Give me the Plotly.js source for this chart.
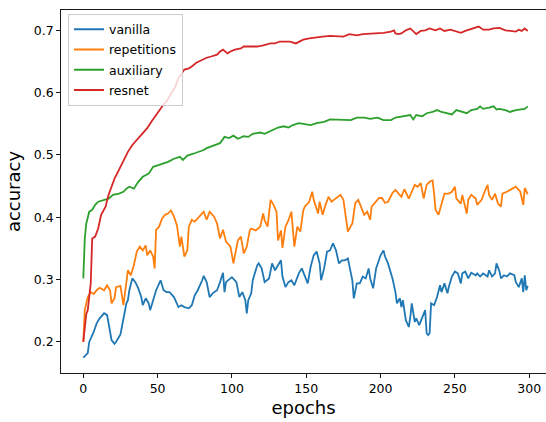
<!DOCTYPE html>
<html>
<head>
<meta charset="utf-8">
<script src="https://cdn.plot.ly/plotly-3.0.1.min.js"></script>
<style>html,body{margin:0;padding:0;background:#fff;}#chart{width:546px;height:422px;}</style>
</head>
<body>
<div id="chart"></div>
<script>
// ---- data ----
const seriesNames = ["vanilla", "repetitions", "auxiliary", "resnet"];
const seriesColors = ["#1f77b4", "#ff7f0e", "#2ca02c", "#d62728"];

const vanillaEpochs = [0,3,4,7,9,11,14,16,17,19,21,22,25,27,29,30,31,33,35,37,39,40,42,44,45,47,49,52,53,54,56,58,61,64,66,68,71,73,75,77,80,81,83,85,87,90,92,94,95,96,99,100,103,105,107,109,110,111,113,114,117,118,120,122,125,127,129,131,133,134,136,138,140,142,145,147,149,151,153,155,157,159,160,162,164,166,168,170,172,174,176,178,181,182,184,186,188,190,192,193,195,197,200,202,203,205,208,210,211,213,214,215,217,219,220,221,223,224,226,228,230,231,232,233,234,236,238,240,241,243,245,246,248,250,252,254,255,257,259,261,264,265,267,269,272,273,275,277,278,280,281,283,285,287,290,291,293,295,296,297,298,299];
const vanillaValues = [0.175,0.182,0.2,0.216,0.23,0.238,0.246,0.243,0.23,0.203,0.197,0.2,0.212,0.235,0.262,0.267,0.283,0.302,0.296,0.286,0.272,0.259,0.27,0.262,0.251,0.267,0.283,0.299,0.289,0.283,0.28,0.28,0.272,0.256,0.259,0.256,0.254,0.259,0.275,0.283,0.299,0.306,0.296,0.272,0.278,0.283,0.296,0.311,0.28,0.296,0.302,0.304,0.296,0.272,0.28,0.267,0.246,0.267,0.278,0.299,0.323,0.326,0.318,0.296,0.302,0.326,0.315,0.323,0.331,0.305,0.288,0.296,0.299,0.291,0.31,0.318,0.307,0.294,0.321,0.339,0.345,0.326,0.299,0.318,0.345,0.347,0.358,0.347,0.326,0.331,0.331,0.334,0.299,0.27,0.294,0.294,0.305,0.302,0.318,0.302,0.286,0.318,0.339,0.347,0.337,0.326,0.302,0.28,0.262,0.27,0.256,0.267,0.235,0.224,0.24,0.262,0.232,0.238,0.227,0.24,0.251,0.214,0.211,0.214,0.262,0.259,0.272,0.291,0.28,0.294,0.278,0.289,0.305,0.313,0.31,0.294,0.31,0.313,0.302,0.311,0.307,0.31,0.305,0.31,0.305,0.315,0.305,0.31,0.326,0.313,0.302,0.307,0.305,0.31,0.307,0.296,0.288,0.302,0.28,0.307,0.283,0.29];

const repetitionsEpochs = [0,1,3,5,7,9,11,14,16,18,19,21,22,25,27,29,30,32,34,36,38,40,42,43,45,47,48,49,51,53,55,57,59,61,63,65,66,68,70,71,73,75,77,80,81,83,85,88,90,92,94,96,99,101,103,104,106,108,110,112,113,116,119,121,122,124,126,128,130,131,133,134,136,138,140,142,144,146,148,149,152,154,155,158,159,161,163,165,167,170,173,175,177,178,181,183,185,187,189,191,193,194,196,199,201,203,205,208,210,212,214,216,218,219,221,223,225,227,229,231,233,235,236,237,239,241,243,246,248,250,251,254,255,258,259,261,264,265,268,270,272,273,275,277,279,281,282,285,287,289,291,294,296,297,299];
const repetitionsValues = [0.2,0.251,0.272,0.28,0.277,0.283,0.287,0.283,0.291,0.283,0.262,0.27,0.288,0.29,0.259,0.299,0.315,0.307,0.323,0.345,0.353,0.347,0.355,0.339,0.347,0.337,0.318,0.38,0.385,0.398,0.404,0.406,0.411,0.401,0.387,0.353,0.369,0.337,0.347,0.385,0.396,0.393,0.398,0.406,0.409,0.396,0.409,0.401,0.39,0.366,0.38,0.361,0.353,0.326,0.353,0.363,0.369,0.342,0.353,0.379,0.382,0.379,0.385,0.406,0.395,0.385,0.428,0.42,0.409,0.363,0.379,0.351,0.385,0.395,0.409,0.353,0.385,0.377,0.411,0.417,0.425,0.441,0.428,0.406,0.425,0.404,0.42,0.433,0.425,0.431,0.436,0.428,0.393,0.377,0.39,0.423,0.428,0.417,0.404,0.409,0.396,0.417,0.423,0.431,0.431,0.423,0.425,0.439,0.444,0.439,0.433,0.445,0.433,0.43,0.441,0.452,0.449,0.455,0.43,0.452,0.457,0.459,0.438,0.412,0.404,0.422,0.438,0.438,0.441,0.449,0.43,0.422,0.436,0.406,0.428,0.436,0.43,0.42,0.428,0.441,0.452,0.436,0.428,0.438,0.422,0.417,0.438,0.441,0.444,0.447,0.449,0.441,0.42,0.447,0.437];

const auxiliaryEpochs = [0,1,2,4,6,8,10,14,17,20,24,27,29,31,34,37,40,44,47,51,54,57,61,65,67,70,74,78,81,83,88,92,95,98,101,104,108,111,114,119,122,127,131,135,138,141,145,148,153,157,162,166,171,175,180,184,189,193,198,202,207,210,213,217,220,222,224,228,231,235,238,241,245,248,251,255,258,261,265,267,269,273,276,278,280,284,287,291,294,297,299];
const auxiliaryValues = [0.302,0.366,0.39,0.409,0.412,0.42,0.425,0.428,0.43,0.436,0.438,0.441,0.446,0.449,0.446,0.457,0.465,0.47,0.481,0.484,0.486,0.489,0.494,0.497,0.492,0.499,0.502,0.505,0.508,0.511,0.516,0.519,0.529,0.527,0.531,0.526,0.53,0.529,0.534,0.536,0.534,0.54,0.544,0.546,0.544,0.548,0.551,0.55,0.548,0.551,0.553,0.557,0.557,0.556,0.556,0.56,0.56,0.558,0.56,0.556,0.556,0.56,0.561,0.562,0.564,0.557,0.564,0.562,0.567,0.569,0.572,0.569,0.566,0.565,0.572,0.569,0.567,0.572,0.574,0.578,0.574,0.576,0.578,0.573,0.574,0.572,0.569,0.572,0.573,0.574,0.578];

const resnetEpochs = [0,2,3,5,6,8,10,12,15,17,19,21,24,26,28,30,33,36,38,40,43,46,49,52,54,56,60,62,64,66,68,71,73,76,80,83,86,90,92,94,97,99,102,106,108,112,117,121,126,129,132,136,139,143,148,152,157,161,166,170,175,179,184,188,193,198,202,207,209,210,212,214,217,220,222,224,227,230,233,237,240,243,247,250,254,257,260,264,266,269,273,276,280,284,287,291,293,295,297,299];
const resnetValues = [0.2,0.245,0.251,0.294,0.366,0.369,0.382,0.404,0.417,0.436,0.449,0.462,0.476,0.486,0.497,0.505,0.516,0.524,0.529,0.535,0.543,0.554,0.564,0.575,0.581,0.586,0.602,0.61,0.623,0.631,0.637,0.639,0.642,0.648,0.653,0.656,0.658,0.661,0.666,0.669,0.663,0.666,0.669,0.671,0.674,0.674,0.674,0.676,0.679,0.679,0.682,0.682,0.682,0.679,0.685,0.687,0.689,0.69,0.691,0.691,0.69,0.694,0.692,0.694,0.695,0.695,0.696,0.698,0.7,0.695,0.694,0.695,0.7,0.703,0.699,0.694,0.699,0.7,0.703,0.7,0.703,0.699,0.701,0.699,0.696,0.699,0.701,0.704,0.706,0.701,0.701,0.703,0.704,0.7,0.699,0.698,0.701,0.699,0.703,0.699];

const xTickVals = [0, 50, 100, 150, 200, 250, 300];
const yTickVals = [0.2, 0.3, 0.4, 0.5, 0.6, 0.7];
const xTitle = "epochs";
const yTitle = "accuracy";

const xs = [vanillaEpochs, repetitionsEpochs, auxiliaryEpochs, resnetEpochs];
const ys = [vanillaValues, repetitionsValues, auxiliaryValues, resnetValues];

const font = "DejaVu Sans, sans-serif";
const traces = seriesNames.map((n, i) => ({
  type: "scatter", mode: "lines", name: n,
  x: xs[i], y: ys[i], legendgroup: n,
  line: {color: seriesColors[i], width: 1.8}
}));

const axisCommon = {
  showgrid: false, zeroline: false, showline: true, linecolor: "#000", linewidth: 0.9,
  ticks: "outside", ticklen: 4, tickwidth: 0.9, tickcolor: "#000",
  tickfont: {family: font, size: 12.5, color: "#000"}
};

const layout = {
  width: 546, height: 422,
  margin: {l: 61, r: 0, t: 10, b: 49},
  paper_bgcolor: "#fff", plot_bgcolor: "#fff",
  font: {family: font, color: "#000"},
  xaxis: Object.assign({}, axisCommon, {
    range: [-15, 311.3], tickvals: xTickVals, mirror: true,
    title: {text: xTitle, font: {family: font, size: 18, color: "#000"}, standoff: 6}
  }),
  yaxis: Object.assign({}, axisCommon, {
    range: [0.1502, 0.7326], tickvals: yTickVals, tickformat: ".1f",
    title: {text: yTitle, font: {family: font, size: 18, color: "#000"}, standoff: 8}
  }),
  showlegend: true,
  legend: {
    x: 0.0144, y: 0.99, xanchor: "left", yanchor: "top",
    bgcolor: "rgba(255,255,255,0.8)", bordercolor: "#cccccc", borderwidth: 1,
    font: {family: font, size: 12.5, color: "#000"}, tracegroupgap: 1
  }
};

Plotly.newPlot("chart", traces, layout, {displayModeBar: false, staticPlot: true});
</script>
</body>
</html>
